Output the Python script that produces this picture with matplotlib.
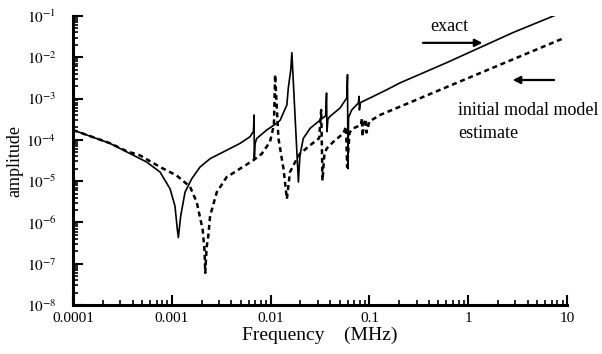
import matplotlib
matplotlib.use("Agg")
import matplotlib.pyplot as plt

# exact response (solid)
exact_f = [1.0e-4, 2.37e-4, 3.5e-4, 5.57e-4, 7.6e-4, 9.6e-4, 1.076e-3, 1.137e-3, 1.164e-3,
           1.23e-3, 1.36e-3, 1.59e-3, 1.93e-3, 2.44e-3, 3.32e-3, 4.9e-3, 6.18e-3, 6.7e-3,
           6.8e-3, 6.84e-3, 6.95e-3, 7.23e-3, 9.12e-3, 1.15e-2, 1.25e-2, 1.46e-2, 1.51e-2,
           1.6e-2, 1.64e-2, 1.91e-2, 1.98e-2, 2.14e-2, 2.51e-2, 3.16e-2, 3.6e-2, 3.68e-2,
           3.72e-2, 3.8e-2, 3.99e-2, 5.04e-2, 5.89e-2, 6.0e-2, 6.06e-2, 6.15e-2, 6.62e-2,
           7.73e-2, 7.85e-2, 7.92e-2, 8.1e-2, 0.101, 0.150, 0.204, 0.605, 2.86, 9.9]
exact_a = [1.73e-4, 8.2e-5, 5.1e-5, 2.9e-5, 1.66e-5, 6.5e-6, 2.5e-6, 6.8e-7, 4.3e-7,
           1.44e-6, 5.4e-6, 1.14e-5, 2.2e-5, 3.5e-5, 5.1e-5, 8.2e-5, 1.19e-4, 1.6e-4,
           4.0e-4, 3.5e-5, 8.0e-5, 1.08e-4, 1.73e-4, 2.52e-4, 3.0e-4, 7.0e-4, 1.8e-3,
           5.0e-3, 1.29e-2, 9.5e-6, 4.2e-5, 1.08e-4, 1.9e-4, 3.0e-4, 3.8e-4, 1.36e-3,
           1.58e-4, 3.2e-4, 3.7e-4, 5.9e-4, 1.03e-3, 3.8e-3, 2.0e-5, 3.5e-4, 5.3e-4,
           7.8e-4, 1.13e-3, 5.3e-4, 8.0e-4, 1.03e-3, 1.64e-3, 2.4e-3, 7.4e-3, 4.0e-2, 0.135]

# initial modal model estimate (dashed)
model_f = [1.0e-4, 2.37e-4, 3.5e-4, 4.77e-4, 7.6e-4, 1.12e-3, 1.53e-3, 1.79e-3, 1.85e-3,
           2.05e-3, 2.14e-3, 2.18e-3, 2.25e-3, 2.34e-3, 2.44e-3, 2.85e-3, 3.59e-3, 4.9e-3,
           6.68e-3, 8.13e-3, 9.86e-3, 1.08e-2, 1.11e-2, 1.2e-2, 1.35e-2, 1.46e-2, 1.57e-2,
           1.77e-2, 1.98e-2, 2.51e-2, 3.1e-2, 3.25e-2, 3.35e-2, 3.5e-2, 3.7e-2, 4.32e-2,
           5.45e-2, 5.8e-2, 5.95e-2, 6.3e-2, 6.87e-2, 8.2e-2, 8.4e-2, 8.5e-2, 8.8e-2,
           9.2e-2, 9.35e-2, 0.10, 0.128, 1.94, 9.55]
model_a = [1.73e-4, 8.3e-5, 5.3e-5, 4.2e-5, 2.2e-5, 1.37e-5, 7.3e-6, 3.07e-6, 2.1e-6,
           6.8e-7, 2.2e-7, 6.0e-8, 2.5e-7, 4.7e-7, 1.44e-6, 5.4e-6, 1.25e-5, 2.0e-5,
           3.2e-5, 4.6e-5, 9.0e-5, 2.3e-4, 3.8e-3, 1.08e-4, 2.0e-5, 3.7e-6, 1.66e-5,
           2.9e-5, 4.6e-5, 7.4e-5, 1.1e-4, 5.3e-4, 1.03e-5, 4.5e-5, 6.2e-5, 9.0e-5,
           1.44e-4, 2.1e-4, 2.2e-5, 1.5e-4, 1.9e-4, 2.3e-4, 3.3e-4, 1.2e-4, 2.5e-4,
           3.2e-4, 1.5e-4, 2.8e-4, 4.0e-4, 6.1e-3, 3.0e-2]

xticks = [1e-4, 1e-3, 1e-2, 1e-1, 1, 10]
xtick_labels = ["0.0001", "0.001", "0.01", "0.1", "1", "10"]
yticks = [1e-8, 1e-7, 1e-6, 1e-5, 1e-4, 1e-3, 1e-2, 1e-1]
ytick_labels = [r"$10^{-%d}$" % k for k in range(8, 0, -1)]

plt.rcParams["font.family"] = ["Liberation Serif", "DejaVu Serif"]
plt.rcParams["mathtext.fontset"] = "stix"

fig = plt.figure(figsize=(6.02, 3.54), dpi=100)
ax = fig.add_axes([0.1213, 0.1384, 0.8206, 0.8164])

ax.plot(exact_f, exact_a, color="black", lw=1.2)
ax.plot(model_f, model_a, color="black", lw=1.8, linestyle=(0, (2.0, 1.5)))

ax.set_xscale("log")
ax.set_yscale("log")
ax.set_xlim(1e-4, 10)
ax.set_ylim(1e-8, 1e-1)
ax.set_xticks(xticks, xtick_labels)
ax.set_yticks(yticks, ytick_labels)

for s in ("top", "right"):
    ax.spines[s].set_visible(False)
for s in ("left", "bottom"):
    ax.spines[s].set_linewidth(2.2)

ax.tick_params(axis="both", which="major", direction="in", length=7, width=1.5, labelsize=11)
ax.tick_params(axis="both", which="minor", direction="in", length=3.5, width=1.2)
ax.tick_params(axis="y", which="major", pad=12)
ax.tick_params(axis="x", which="major", pad=5)

ax.set_xlabel("Frequency    (MHz)", fontsize=14, labelpad=1)
ax.set_ylabel("amplitude", fontsize=13, labelpad=2)

# annotations
fig.text(0.746, 0.924, "exact", fontsize=13, ha="center", va="center")
ax.annotate("", xy=(0.806, 0.879), xytext=(0.698, 0.879),
            xycoords="figure fraction", textcoords="figure fraction",
            arrowprops=dict(arrowstyle="-|>", lw=1.6, color="black", mutation_scale=11))
ax.annotate("", xy=(0.847, 0.774), xytext=(0.925, 0.774),
            xycoords="figure fraction", textcoords="figure fraction",
            arrowprops=dict(arrowstyle="-|>", lw=1.6, color="black", mutation_scale=11))
fig.text(0.761, 0.689, "initial modal model", fontsize=13, ha="left", va="center")
fig.text(0.761, 0.624, "estimate", fontsize=13, ha="left", va="center")

fig.savefig("out.png", dpi=100)
